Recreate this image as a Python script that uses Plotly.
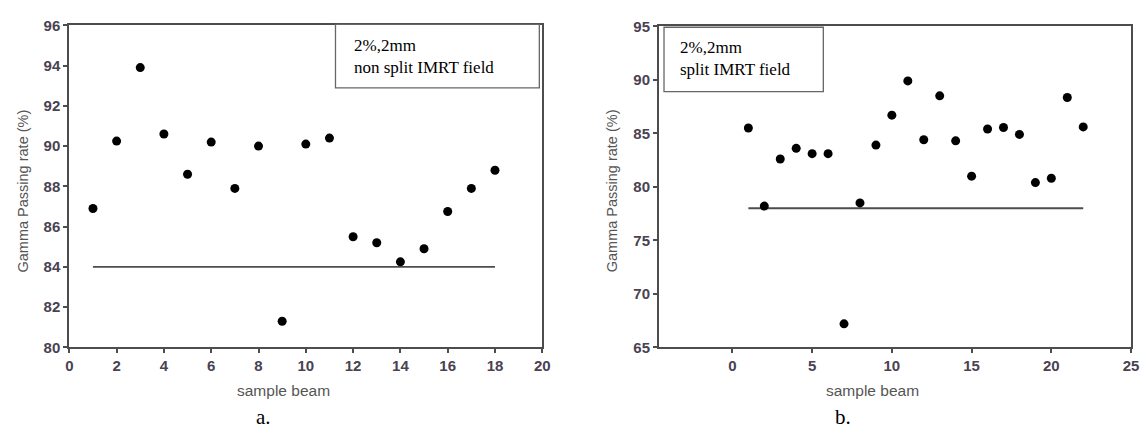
import plotly.graph_objects as go

# Panel a: non split IMRT field, 2%/2mm gamma criterion
beams_a = list(range(1, 19))
rate_a = [86.9, 90.25, 93.9, 90.6, 88.6, 90.2, 87.9, 90.0, 81.3,
          90.1, 90.4, 85.5, 85.2, 84.25, 84.9, 86.75, 87.9, 88.8]
threshold_a = 84
threshold_span_a = [1, 18]

# Panel b: split IMRT field, 2%/2mm gamma criterion
beams_b = list(range(1, 23))
rate_b = [85.5, 78.2, 82.6, 83.6, 83.1, 83.1, 67.2, 78.5, 83.9, 86.7, 89.9,
          84.4, 88.5, 84.3, 81.0, 85.4, 85.55, 84.9, 80.4, 80.8, 88.35, 85.6]
threshold_b = 78
threshold_span_b = [1, 22]

xticks_a = list(range(0, 21, 2))
yticks_a = list(range(80, 97, 2))
xticks_b = list(range(0, 26, 5))
yticks_b = list(range(65, 96, 5))

W, H = 1145, 440
FRAME = "#4d4d4d"
TICKFONT = dict(family="Liberation Sans Narrow, Arial Narrow, Liberation Sans",
                size=15, color="#4a4250", weight="bold")
SERIF = "Liberation Serif, Times New Roman, serif"
SANS = "Liberation Sans, Arial"

def px_x(p):
    return p / W

def px_y(p):
    return 1 - p / H

fig = go.Figure()

marker = dict(color="black", size=9, symbol="circle")
line = dict(color="#4d4d4d", width=1.8)

fig.add_trace(go.Scatter(x=threshold_span_a, y=[threshold_a] * 2, mode="lines",
                         line=line, xaxis="x", yaxis="y", showlegend=False))
fig.add_trace(go.Scatter(x=beams_a, y=rate_a, mode="markers", marker=marker,
                         xaxis="x", yaxis="y", showlegend=False))
fig.add_trace(go.Scatter(x=threshold_span_b, y=[threshold_b] * 2, mode="lines",
                         line=line, xaxis="x2", yaxis="y2", showlegend=False))
fig.add_trace(go.Scatter(x=beams_b, y=rate_b, mode="markers", marker=marker,
                         xaxis="x2", yaxis="y2", showlegend=False))

axis_style = dict(showline=True, mirror=True, linecolor=FRAME, linewidth=2,
                  ticks="outside", ticklen=4, tickcolor=FRAME, tickwidth=1.5,
                  showgrid=False, zeroline=False, tickfont=TICKFONT)

fig.update_layout(
    width=W, height=H,
    margin=dict(l=0, r=0, t=0, b=0),
    paper_bgcolor="white", plot_bgcolor="white",
    xaxis=dict(domain=[px_x(66), px_x(544)], range=[0, 20], tickvals=xticks_a,
               anchor="y", **axis_style),
    yaxis=dict(domain=[px_y(352), px_y(17)], range=[80, 96], tickvals=yticks_a,
               anchor="x", **axis_style),
    xaxis2=dict(domain=[px_x(662), px_x(1139)], range=[-4.6, 25], tickvals=xticks_b,
                anchor="y2", **axis_style),
    yaxis2=dict(domain=[px_y(352), px_y(18)], range=[65, 95], tickvals=yticks_b,
                anchor="x2", **axis_style),
)

# Label boxes inside each panel
boxes = [
    (335, 16, 541, 82, 352, 49, "2%,2mm<br>non split IMRT field"),
    (667, 19, 828, 86, 681, 52, "2%,2mm<br>split IMRT field"),
]
for x0, y0, x1, y1, tx, ty, txt in boxes:
    fig.add_shape(type="rect", xref="paper", yref="paper",
                  x0=px_x(x0), x1=px_x(x1), y0=px_y(y1), y1=px_y(y0),
                  line=dict(color="#666666", width=1.3), fillcolor="white")
    fig.add_annotation(xref="paper", yref="paper", x=px_x(tx), y=px_y(ty),
                       xanchor="left", yanchor="middle", align="left", showarrow=False,
                       text=txt, font=dict(family=SERIF, size=17, color="black"))

# Axis titles and panel captions
for cx in (19, 614):
    fig.add_annotation(xref="paper", yref="paper", x=px_x(cx), y=px_y(189),
                       text="Gamma Passing rate (%)", textangle=-90, showarrow=False,
                       xanchor="center", yanchor="middle",
                       font=dict(family=SANS, size=14.5, color="#555555"))
for cx, cap, capx in [(282, "a.", 262), (878, "b.", 848)]:
    fig.add_annotation(xref="paper", yref="paper", x=px_x(cx), y=px_y(397),
                       text="sample beam", showarrow=False,
                       xanchor="center", yanchor="middle",
                       font=dict(family=SANS, size=15.5, color="#555555"))
    fig.add_annotation(xref="paper", yref="paper", x=px_x(capx), y=px_y(424),
                       text=cap, showarrow=False, xanchor="center", yanchor="middle",
                       font=dict(family=SERIF, size=21, color="black"))

fig.write_html("out.html")
